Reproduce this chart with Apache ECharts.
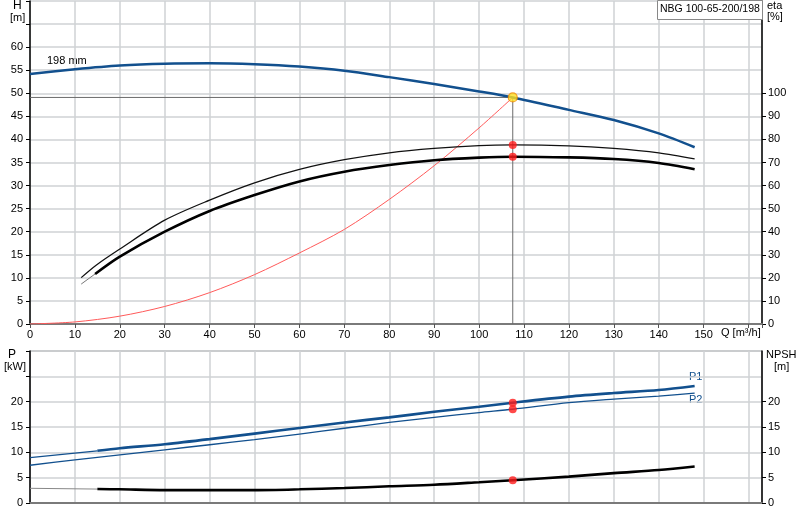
<!DOCTYPE html>
<html>
<head>
<meta charset="utf-8">
<script src="https://cdn.jsdelivr.net/npm/echarts@6/dist/echarts.min.js"></script>
<style>
  html, body { margin: 0; padding: 0; background: #fff; }
  #chart { width: 800px; height: 520px; }
</style>
</head>
<body>
<div id="chart"></div>
<script>
// pump curve NBG 100-65-200/198

// H curve (m)
const qHead = [0, 10, 20, 30, 40, 50, 60, 70, 80, 90, 100, 107.5, 120, 130, 140, 148]
const head = [54.2, 55.2, 56.0, 56.4, 56.5, 56.3, 55.8, 54.9, 53.5, 52.0, 50.4, 49.1, 46.4, 44.2, 41.3, 38.3]

// efficiency (%), upper thin and lower thick
const qEta1 = [11.4, 14.8, 20, 30, 40, 50, 60, 70, 80, 90, 100, 107.5, 120, 130, 140, 148]
const eta1 = [20.1, 25.6, 32.5, 45, 53.7, 61.2, 67.0, 71.2, 74.2, 76.1, 77.3, 77.6, 77.2, 76.1, 74.2, 71.6]
const qEta2 = [11.4, 14.5, 20, 30, 40, 50, 60, 70, 80, 90, 100, 107.5, 120, 130, 140, 148]
const eta2 = [17.3, 21.7, 29.2, 40, 49.0, 55.9, 61.8, 66, 68.9, 71, 72.1, 72.5, 72.2, 71.5, 69.8, 67.1]

// system curve (m)
const qSys = [0, 10, 20, 30, 40, 50, 60, 70, 80, 90, 100, 107.5]
const hSys = [0, 0.45, 1.7, 3.8, 6.8, 10.7, 15.4, 20.5, 27.0, 34.3, 42.5, 49.1]

// power (kW) and NPSH (m)
const qP1 = [0, 15, 20, 30, 40, 50, 60, 70, 80, 90, 100, 107.5, 120, 130, 140, 148]
const p1 = [8.95, 10.3, 10.8, 11.6, 12.6, 13.7, 14.8, 15.9, 16.9, 18.0, 19.0, 19.8, 21.0, 21.7, 22.3, 23.1]
const qP2 = [0, 10, 20, 30, 40, 50, 60, 70, 80, 90, 100, 107.5, 120, 130, 140, 148]
const p2 = [7.45, 8.5, 9.5, 10.5, 11.5, 12.5, 13.6, 14.75, 15.9, 16.9, 17.85, 18.5, 19.8, 20.5, 21.1, 21.7]
const qNpsh = [0, 15, 20, 30, 40, 50, 60, 70, 80, 90, 100, 107.5, 120, 130, 140, 148]
const npsh = [2.9, 2.75, 2.7, 2.55, 2.55, 2.55, 2.7, 2.95, 3.3, 3.6, 4.1, 4.5, 5.2, 5.9, 6.5, 7.2]

// duty point
const opQ = 107.5
const opH = 49.1
const opEta = [77.6, 72.5]
const opP = [19.8, 18.5]
const opNpsh = 4.5

const FONT = "'Liberation Sans', Arial, sans-serif"
const BLUE = '#12508e'
const GRIDC = '#cfd2d4'

const zip = (xs, ys) => xs.map((x, i) => [x, ys[i]])

var myChart = echarts.init(document.getElementById('chart'), null, { renderer: 'canvas' })

const lbl = { color: '#000', fontFamily: FONT, fontSize: 11 }
// smooth curve settings shared by all curves
const curve = { type: 'line', symbol: 'none', smooth: 0.3 }

var option = {
  animation: false,
  backgroundColor: '#fff',
  grid: [
    { left: 30, right: 38, top: 1, height: 323 },
    { left: 30, right: 38, top: 351, height: 152, show: true, borderColor: '#777', borderWidth: 1 }
  ],
  xAxis: [
    {
      type: 'value', gridIndex: 0, min: 0, max: 163, interval: 10,
      axisLine: { onZero: false, lineStyle: { color: '#7a7a7a', width: 2 } },
      axisTick: { length: 4, lineStyle: { color: '#555' } },
      axisLabel: Object.assign({}, lbl, { margin: 5, formatter: v => v <= 150 ? v : '' }),
      splitLine: { lineStyle: { color: GRIDC, width: 1.5 } }
    },
    {
      type: 'value', gridIndex: 1, min: 0, max: 163, interval: 10,
      axisLine: { onZero: false, lineStyle: { color: '#7a7a7a', width: 2 } },
      axisTick: { show: false },
      axisLabel: { show: false },
      splitLine: { lineStyle: { color: GRIDC, width: 1.5 } }
    }
  ],
  yAxis: [
    {
      type: 'value', gridIndex: 0, min: 0, max: 70, interval: 5,
      axisLine: { show: true, lineStyle: { color: '#000', width: 1.5 } },
      axisTick: { show: true, length: 4, lineStyle: { color: '#000' } },
      axisLabel: Object.assign({}, lbl, { margin: 7, formatter: v => v <= 60 ? v : '' }),
      splitLine: { lineStyle: { color: GRIDC, width: 1.5 } }
    },
    {
      type: 'value', gridIndex: 0, min: 0, max: 140, interval: 10, position: 'right',
      axisLine: { show: true, lineStyle: { color: '#000', width: 1.5 } },
      axisTick: { show: true, length: 4, lineStyle: { color: '#000' }, customValues: [0, 10, 20, 30, 40, 50, 60, 70, 80, 90, 100] },
      axisLabel: Object.assign({}, lbl, { margin: 6, customValues: [0, 10, 20, 30, 40, 50, 60, 70, 80, 90, 100] }),
      splitLine: { show: false }
    },
    {
      type: 'value', gridIndex: 1, min: 0, max: 30, interval: 5,
      axisLine: { show: true, lineStyle: { color: '#000', width: 1.5 } },
      axisTick: { show: true, length: 4, lineStyle: { color: '#000' } },
      axisLabel: Object.assign({}, lbl, { margin: 7, formatter: v => v <= 20 ? v : '' }),
      splitLine: { lineStyle: { color: GRIDC, width: 1.5 } }
    },
    {
      type: 'value', gridIndex: 1, min: 0, max: 30, interval: 5, position: 'right',
      axisLine: { show: true, lineStyle: { color: '#000', width: 1.5 } },
      axisTick: { show: true, length: 4, lineStyle: { color: '#000' }, customValues: [0, 5, 10, 15, 20] },
      axisLabel: Object.assign({}, lbl, { margin: 6, customValues: [0, 5, 10, 15, 20] }),
      splitLine: { show: false }
    }
  ],
  graphic: [
    { type: 'text', left: 13, top: 0, style: { text: 'H', font: '12px ' + FONT, fill: '#000' } },
    { type: 'text', left: 10, top: 12, style: { text: '[m]', font: '11px ' + FONT, fill: '#000' } },
    { type: 'text', left: 767, top: 0, style: { text: 'eta', font: '11px ' + FONT, fill: '#000' } },
    { type: 'text', left: 767, top: 11, style: { text: '[%]', font: '11px ' + FONT, fill: '#000' } },
    { type: 'text', left: 8, top: 349, style: { text: 'P', font: '12px ' + FONT, fill: '#000' } },
    { type: 'text', left: 4, top: 361, style: { text: '[kW]', font: '11px ' + FONT, fill: '#000' } },
    { type: 'text', left: 766, top: 349, style: { text: 'NPSH', font: '11px ' + FONT, fill: '#000' } },
    { type: 'text', left: 774, top: 361, style: { text: '[m]', font: '11px ' + FONT, fill: '#000' } },
    { type: 'text', left: 721, top: 327, style: { text: 'Q [m³/h]', font: '11px ' + FONT, fill: '#000' } },
    { type: 'text', left: 47, top: 55, style: { text: '198 mm', font: '11px ' + FONT, fill: '#000' } },
    { type: 'text', left: 689, top: 371, style: { text: 'P1', font: '11px ' + FONT, fill: BLUE } },
    { type: 'text', left: 689, top: 394, style: { text: 'P2', font: '11px ' + FONT, fill: BLUE } },
    {
      type: 'rect', left: 657, top: 0, z: 10,
      shape: { width: 105, height: 19 },
      style: { fill: '#fff', stroke: '#888', lineWidth: 1 }
    },
    { type: 'text', left: 660, top: 4, z: 11, style: { text: 'NBG 100-65-200/198', font: '10.5px ' + FONT, fill: '#000' } }
  ],
  series: [
    // duty point guide lines
    {
      type: 'line', xAxisIndex: 0, yAxisIndex: 0, symbol: 'none',
      data: [[0, opH], [opQ, opH], [opQ, 0]],
      lineStyle: { color: '#6b6b6b', width: 1 }, z: 2
    },
    Object.assign({}, curve, {
      xAxisIndex: 0, yAxisIndex: 0, data: zip(qSys, hSys),
      lineStyle: { color: '#ff5a5a', width: 1 }, z: 3
    }),
    Object.assign({}, curve, {
      xAxisIndex: 0, yAxisIndex: 0, data: zip(qHead, head),
      lineStyle: { color: BLUE, width: 2.5 }, z: 4
    }),
    Object.assign({}, curve, {
      xAxisIndex: 0, yAxisIndex: 1, data: zip(qEta1, eta1),
      lineStyle: { color: '#111', width: 1.3 }, z: 4
    }),
    {
      type: 'line', xAxisIndex: 0, yAxisIndex: 1, symbol: 'none',
      data: zip(qEta2, eta2).slice(0, 2),
      lineStyle: { color: '#777', width: 1 }, z: 4
    },
    Object.assign({}, curve, {
      xAxisIndex: 0, yAxisIndex: 1, data: zip(qEta2, eta2).slice(1),
      lineStyle: { color: '#000', width: 2.6 }, z: 4
    }),
    {
      type: 'scatter', xAxisIndex: 0, yAxisIndex: 1, symbolSize: 8,
      data: opEta.map(v => [opQ, v]),
      itemStyle: { color: '#ff1a1a' }, z: 6
    },
    {
      type: 'scatter', xAxisIndex: 0, yAxisIndex: 0, symbolSize: 9,
      data: [[opQ, opH]],
      itemStyle: { color: '#ffe020', borderColor: '#f08a00', borderWidth: 1.2 }, z: 7
    },
    // lower chart
    {
      type: 'line', xAxisIndex: 1, yAxisIndex: 2, symbol: 'none',
      data: zip(qP1, p1).slice(0, 2),
      lineStyle: { color: BLUE, width: 1.2 }, z: 4
    },
    Object.assign({}, curve, {
      xAxisIndex: 1, yAxisIndex: 2, data: zip(qP1, p1).slice(1),
      lineStyle: { color: BLUE, width: 2.6 }, z: 4
    }),
    Object.assign({}, curve, {
      xAxisIndex: 1, yAxisIndex: 2, data: zip(qP2, p2),
      lineStyle: { color: BLUE, width: 1.3 }, z: 4
    }),
    {
      type: 'line', xAxisIndex: 1, yAxisIndex: 3, symbol: 'none',
      data: zip(qNpsh, npsh).slice(0, 2),
      lineStyle: { color: '#888', width: 1 }, z: 4
    },
    Object.assign({}, curve, {
      xAxisIndex: 1, yAxisIndex: 3, data: zip(qNpsh, npsh).slice(1),
      lineStyle: { color: '#000', width: 2.6 }, z: 4
    }),
    {
      type: 'scatter', xAxisIndex: 1, yAxisIndex: 2, symbolSize: 8,
      data: opP.map(v => [opQ, v]),
      itemStyle: { color: '#ff1a1a' }, z: 6
    },
    {
      type: 'scatter', xAxisIndex: 1, yAxisIndex: 3, symbolSize: 8,
      data: [[opQ, opNpsh]],
      itemStyle: { color: '#ff1a1a' }, z: 6
    }
  ]
}
myChart.setOption(option)
</script>
</body>
</html>
